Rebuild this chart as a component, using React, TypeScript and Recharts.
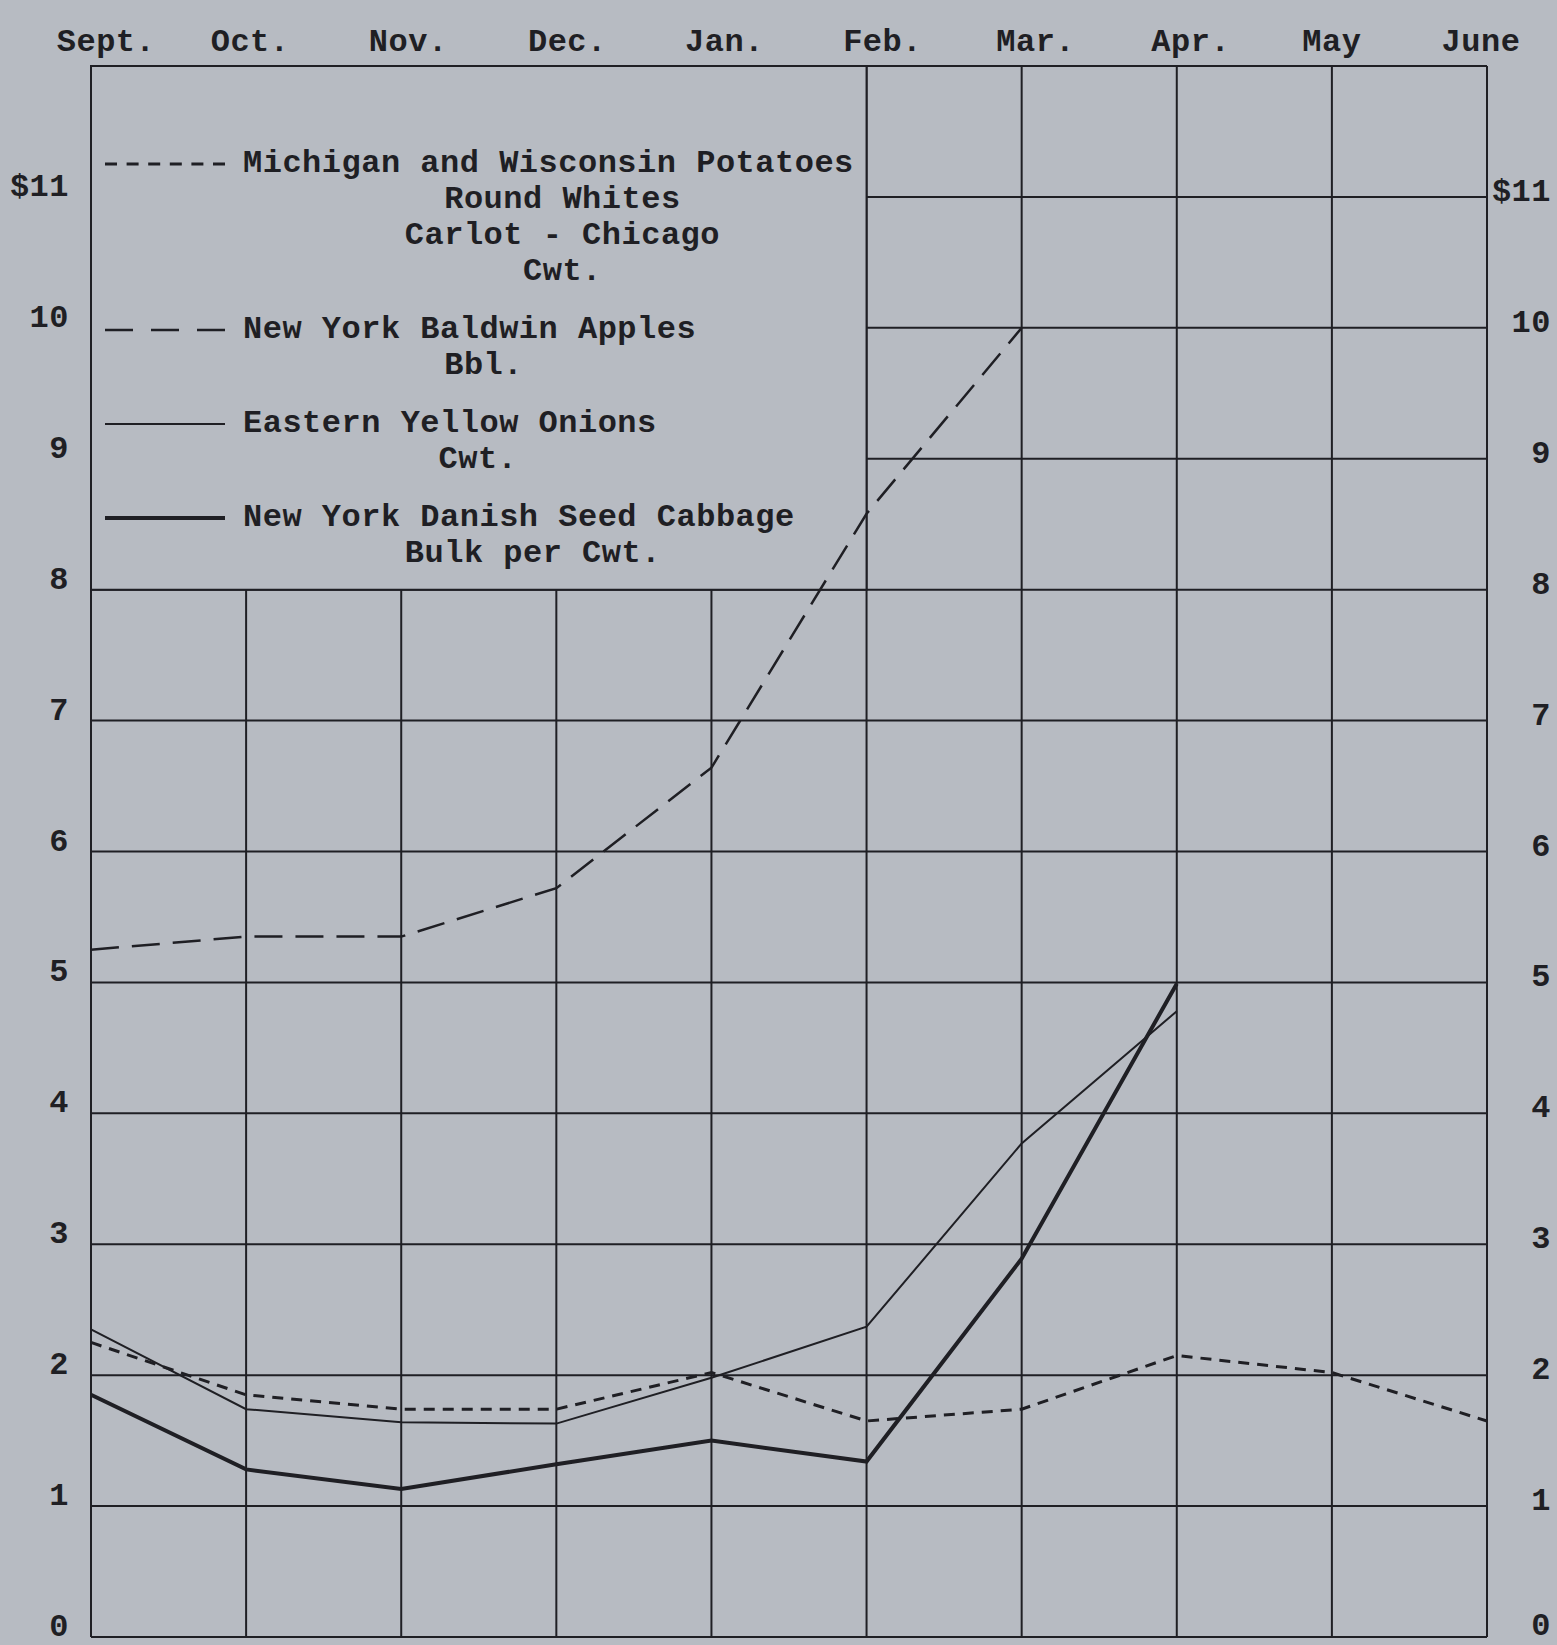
import { LineChart, Line, XAxis, YAxis, CartesianGrid, ReferenceArea } from 'recharts'

// Monthly prices, Sept. to June, dollars per unit
const months = ['Sept.', 'Oct.', 'Nov.', 'Dec.', 'Jan.', 'Feb.', 'Mar.', 'Apr.', 'May', 'June']
const potatoes = [2.25, 1.85, 1.74, 1.74, 2.02, 1.65, 1.74, 2.15, 2.02, 1.65]
const apples = [5.25, 5.35, 5.35, 5.72, 6.64, 8.58, 10.0, null, null, null]
const onions = [2.35, 1.74, 1.64, 1.63, 1.98, 2.37, 3.77, 4.78, null, null]
const cabbage = [1.85, 1.28, 1.13, 1.32, 1.5, 1.34, 2.89, 4.99, null, null]
const yTicks = [0, 1, 2, 3, 4, 5, 6, 7, 8, 9, 10, 11, 12]

const seriesNames = [
  'Michigan and Wisconsin Potatoes',
  'New York Baldwin Apples',
  'Eastern Yellow Onions',
  'New York Danish Seed Cabbage',
]
const seriesNotes = [['Round Whites', 'Carlot - Chicago', 'Cwt.'], ['Bbl.'], ['Cwt.'], ['Bulk per Cwt.']]

const BG = '#b7bbc2'
const INK = '#1f1f24'
const FONT = '"Liberation Mono", "DejaVu Sans Mono", monospace'

const seriesStyles = [
  { key: 'potatoes', width: 3, dash: '11 8' },
  { key: 'apples', width: 2.5, dash: '28 13' },
  { key: 'onions', width: 2, dash: undefined },
  { key: 'cabbage', width: 4, dash: undefined },
]
const legendDash = ['12 9.6', '28 18', undefined, undefined]
// typewritten month labels don't sit exactly on the grid lines
const labelNudge = [15, 4, 7, 11, 13, 16, 14, 14, 0, -6]
const noteShift = [14, 14, 28, 14]

const chartData = months.map((month, i) => ({
  month,
  potatoes: potatoes[i],
  apples: apples[i],
  onions: onions[i],
  cabbage: cabbage[i],
}))

const textStyle = { fontFamily: FONT, fontSize: 32, fontWeight: 700, letterSpacing: 0.5, fill: INK }

function MonthTick({ x, payload, index }: any) {
  return (
    <text x={x + labelNudge[index]} y={51} textAnchor="middle" style={textStyle}>
      {payload.value}
    </text>
  )
}

function LeftTick({ y, payload }: any) {
  if (payload.value === 12) return null
  return (
    <text x={69} y={y - 1} textAnchor="end" style={textStyle}>
      {payload.value === 11 ? '$11' : payload.value}
    </text>
  )
}

function RightTick({ y, payload }: any) {
  if (payload.value === 12) return null
  return (
    <text x={1551} y={Math.min(y + 4, 1635)} textAnchor="end" style={textStyle}>
      {payload.value === 11 ? '$11' : payload.value}
    </text>
  )
}

export default function App() {
  return (
    <div style={{ position: 'absolute', left: 0, top: 0, width: 1557, height: 1645, background: BG, overflow: 'hidden' }}>
      <LineChart width={1557} height={1645} data={chartData} margin={{ top: 26, right: 0, bottom: 8, left: 0 }}>
        <CartesianGrid stroke={INK} strokeWidth={2} />
        <XAxis dataKey="month" orientation="top" height={40} axisLine={false} tickLine={false} tick={<MonthTick />} interval={0} />
        <YAxis domain={[0, 12]} ticks={yTicks} width={91} axisLine={false} tickLine={false} tick={<LeftTick />} interval={0} />
        <YAxis yAxisId="right" orientation="right" domain={[0, 12]} ticks={yTicks} width={70} axisLine={false} tickLine={false} tick={<RightTick />} interval={0} />
        <ReferenceArea x1="Sept." x2="Feb." y1={8} y2={12} fill={BG} fillOpacity={1} stroke={INK} strokeWidth={2} ifOverflow="visible" />
        {seriesStyles.map((s) => (
          <Line
            key={s.key}
            dataKey={s.key}
            type="linear"
            stroke={INK}
            strokeWidth={s.width}
            strokeDasharray={s.dash}
            dot={false}
            activeDot={false}
            isAnimationActive={false}
          />
        ))}
        {/* hidden series so the right-hand scale is drawn */}
        <Line yAxisId="right" dataKey="potatoes" stroke="none" dot={false} activeDot={false} legendType="none" isAnimationActive={false} />
      </LineChart>

      {/* legend block in the upper-left box */}
      <div style={{ position: 'absolute', left: 105, top: 146, fontFamily: FONT, fontSize: 32, fontWeight: 700, letterSpacing: 0.5, color: INK, lineHeight: '36px' }}>
        {seriesNames.map((name, i) => (
          <div key={name} style={{ display: 'flex', alignItems: 'flex-start', marginBottom: 22 }}>
            <svg width={120} height={36} style={{ flex: 'none' }}>
              <line x1={0} x2={120} y1={18} y2={18} stroke={INK} strokeWidth={seriesStyles[i].width} strokeDasharray={legendDash[i]} />
            </svg>
            <div style={{ marginLeft: 18, textAlign: 'center', whiteSpace: 'pre' }}>
              <div>{name}</div>
              {seriesNotes[i].map((n) => (
                <div key={n} style={{ transform: `translateX(${noteShift[i]}px)` }}>{n}</div>
              ))}
            </div>
          </div>
        ))}
      </div>
    </div>
  )
}
